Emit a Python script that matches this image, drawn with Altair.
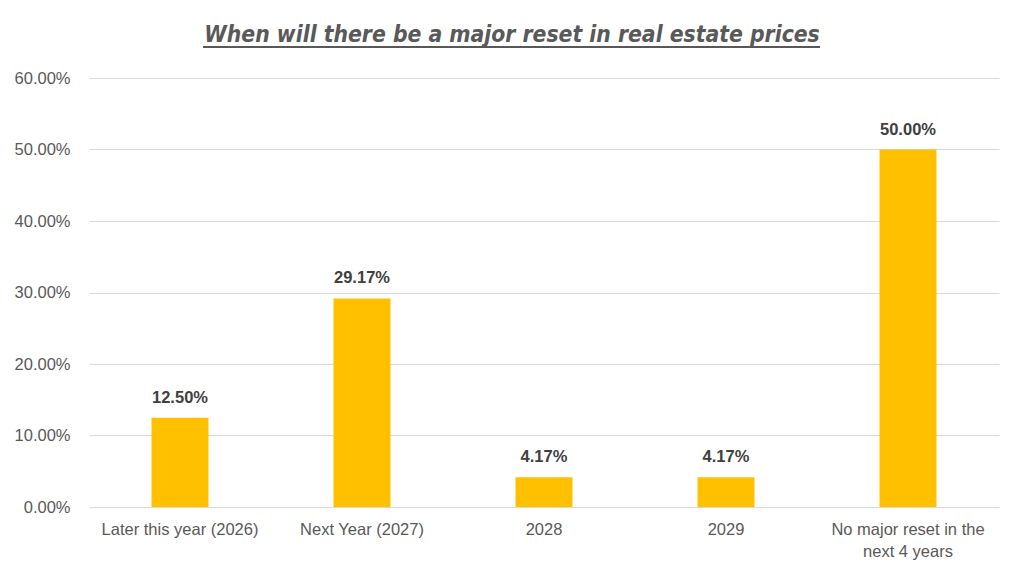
import altair as alt
import pandas as pd

categories = ["Later this year (2026)", "Next Year (2027)", "2028", "2029",
              "No major reset in the next 4 years"]
values = [0.125, 0.2917, 0.0417, 0.0417, 0.50]
labels = ["12.50%", "29.17%", "4.17%", "4.17%", "50.00%"]
title_text = "When will there be a major reset in real estate prices"

df = pd.DataFrame({"cat": categories, "val": values, "lab": labels})

x = alt.X("cat:N", sort=categories, title=None,
          scale=alt.Scale(paddingInner=0, paddingOuter=0),
          axis=alt.Axis(labelAngle=0, labelFont="Liberation Sans", labelFontSize=16.5,
                        labelColor="#595959", labelPadding=14, ticks=False, domain=False,
                        labelLineHeight=22,
                        labelExpr="datum.label == 'No major reset in the next 4 years' ? ['No major reset in the', 'next 4 years'] : datum.label"))
y = alt.Y("val:Q", title=None,
          scale=alt.Scale(domain=[0, 0.6]),
          axis=alt.Axis(format=".2%", values=[0, 0.1, 0.2, 0.3, 0.4, 0.5, 0.6],
                        labelFont="Liberation Sans", labelFontSize=16.5, labelColor="#595959",
                        labelPadding=19, ticks=False, domain=False,
                        grid=True, gridColor="#d9d9d9", gridWidth=1))

bars = alt.Chart(df).mark_bar(size=57, color="#FFC000").encode(x=x, y=y)
text = alt.Chart(df).mark_text(font="Liberation Sans", fontSize=16.5, fontWeight="bold",
                               color="#404040", baseline="bottom", dy=-12).encode(
    x=alt.X("cat:N", sort=categories), y="val:Q", text="lab:N")

title = alt.Chart(pd.DataFrame({"t": [title_text]})).mark_text(
    font="DejaVu Sans Condensed", fontSize=22.7, fontWeight="bold", fontStyle="italic",
    color="#595959", align="center", baseline="alphabetic", clip=False).encode(
    x=alt.value(423), y=alt.value(-36), text="t:N")

underline = alt.Chart(df).mark_rule(color="#595959", strokeWidth=1.5, clip=False).encode(
    x=alt.value(114), x2=alt.value(731), y=alt.value(-31))

chart = alt.layer(bars, text, title, underline).properties(
    width=910, height=429,
    autosize=alt.AutoSizeParams(type="none"),
    padding={"left": 81, "top": 70, "right": 17, "bottom": 70},
).configure_view(stroke=None)

chart.save("out.html", embed_options={"renderer": "svg", "actions": False})
